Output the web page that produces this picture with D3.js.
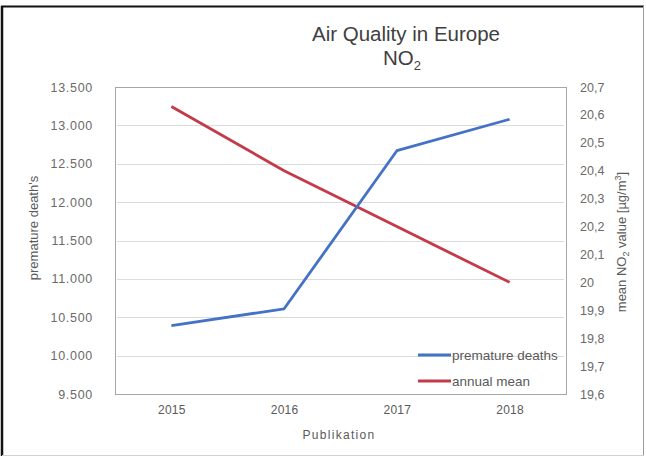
<!DOCTYPE html>
<html>
<head>
<meta charset="utf-8">
<script src="https://cdn.jsdelivr.net/npm/d3@7"></script>
<style>
  html, body { margin: 0; padding: 0; background: #fff; }
  svg { display: block; }
  text { font-family: "Liberation Sans", Arial, sans-serif; }
</style>
</head>
<body>
<svg id="chart" width="646" height="459"></svg>
<script>
// Publication years and the two series
const years = ["2015", "2016", "2017", "2018"];
const prematureDeaths = [10390, 10610, 12670, 13080];
const annualMean = [20.63, 20.4, 20.2, 20.0];

// Axis tick values
const leftTicks = [9500, 10000, 10500, 11000, 11500, 12000, 12500, 13000, 13500];
const rightTicks = [19.6, 19.7, 19.8, 19.9, 20.0, 20.1, 20.2, 20.3, 20.4, 20.5, 20.6, 20.7];

const seriesNames = ["premature deaths", "annual mean"];
const colors = ["#4472c4", "#c43a48"];

const svg = d3.select("#chart");
const plot = { left: 115, right: 566, top: 87, bottom: 394 };

// Outer frame
svg.append("line").attr("x1", 2).attr("x2", 2).attr("y1", 6).attr("y2", 456)
  .attr("stroke", "#111").attr("stroke-width", 2.5);
svg.append("line").attr("x1", 1).attr("x2", 644).attr("y1", 6.5).attr("y2", 6.5)
  .attr("stroke", "#111").attr("stroke-width", 2);
svg.append("line").attr("x1", 643.5).attr("x2", 643.5).attr("y1", 6).attr("y2", 456)
  .attr("stroke", "#9a9a9a").attr("stroke-width", 1);
svg.append("line").attr("x1", 2).attr("x2", 644).attr("y1", 455.5).attr("y2", 455.5)
  .attr("stroke", "#d0d0d0").attr("stroke-width", 1);

// Scales
const x = d3.scalePoint().domain(years).range([plot.left, plot.right]).padding(0.5);
const yL = d3.scaleLinear().domain([9500, 13500]).range([plot.bottom, plot.top]);
const yR = d3.scaleLinear().domain([19.6, 20.7]).range([plot.bottom, plot.top]);

// Gridlines at left axis ticks
svg.append("g").selectAll("line").data(leftTicks.slice(1, -1)).join("line")
  .attr("x1", plot.left + 2).attr("x2", plot.right - 2)
  .attr("y1", d => Math.round(yL(d)) + 0.5).attr("y2", d => Math.round(yL(d)) + 0.5)
  .attr("stroke", "#dcdcdc").attr("stroke-width", 1);

// Plot area border
svg.append("rect")
  .attr("x", plot.left + 0.5).attr("y", plot.top + 0.5)
  .attr("width", plot.right - plot.left).attr("height", plot.bottom - plot.top)
  .attr("fill", "none").attr("stroke", "#a6a6a6").attr("stroke-width", 1);

// Left axis
const fmtL = d => d3.format(",")(d).replace(/,/g, ".");
const leftAxis = d3.axisLeft(yL).tickValues(leftTicks).tickSize(0).tickPadding(22).tickFormat(fmtL);
const gL = svg.append("g").attr("transform", `translate(${plot.left},0)`).call(leftAxis);
gL.select(".domain").remove();
gL.selectAll("text").attr("font-size", 12.5).attr("letter-spacing", 0.7).attr("fill", "#6a6a6a")
  .attr("font-family", "Liberation Sans, Arial, sans-serif");

// Right axis
const fmtR = d => (Math.round(d * 10) / 10).toString().replace(".", ",");
const rightAxis = d3.axisRight(yR).tickValues(rightTicks).tickSize(0).tickPadding(14).tickFormat(fmtR);
const gR = svg.append("g").attr("transform", `translate(${plot.right},0)`).call(rightAxis);
gR.select(".domain").remove();
gR.selectAll("text").attr("font-size", 12.5).attr("fill", "#6a6a6a")
  .attr("font-family", "Liberation Sans, Arial, sans-serif");

// Bottom axis
const bottomAxis = d3.axisBottom(x).tickSize(0).tickPadding(11);
const gB = svg.append("g").attr("transform", `translate(0,${plot.bottom})`).call(bottomAxis);
gB.select(".domain").remove();
gB.selectAll("text").attr("font-size", 12).attr("letter-spacing", 0.3).attr("fill", "#5a5a5a")
  .attr("font-family", "Liberation Sans, Arial, sans-serif");

// Series lines
const lineL = d3.line().x((d, i) => x(years[i])).y(d => yL(d));
const lineR = d3.line().x((d, i) => x(years[i])).y(d => yR(d));
svg.append("path").datum(annualMean).attr("d", lineR)
  .attr("fill", "none").attr("stroke", colors[1]).attr("stroke-width", 2.8)
  .attr("stroke-linejoin", "round");
svg.append("path").datum(prematureDeaths).attr("d", lineL)
  .attr("fill", "none").attr("stroke", colors[0]).attr("stroke-width", 2.8)
  .attr("stroke-linejoin", "round");

// Title
const title = svg.append("text").attr("x", 406).attr("y", 41)
  .attr("text-anchor", "middle").attr("font-size", 20.5).attr("fill", "#404040");
title.append("tspan").text("Air Quality in Europe");
const sub = svg.append("text").attr("x", 402).attr("y", 65)
  .attr("text-anchor", "middle").attr("font-size", 20.5).attr("fill", "#404040");
sub.append("tspan").text("NO");
sub.append("tspan").attr("font-size", 13).attr("dy", 5).text("2");

// Axis titles
svg.append("text")
  .attr("transform", "translate(38,228) rotate(-90)")
  .attr("text-anchor", "middle").attr("font-size", 13).attr("fill", "#5a5a5a")
  .text("premature death's");

const rt = svg.append("text")
  .attr("transform", "translate(626,242) rotate(-90)")
  .attr("text-anchor", "middle").attr("font-size", 13).attr("fill", "#5a5a5a");
rt.append("tspan").text("mean NO");
rt.append("tspan").attr("font-size", 9).attr("dy", 3).text("2");
rt.append("tspan").attr("dy", -3).text(" value [µg/m");
rt.append("tspan").attr("font-size", 9).attr("dy", -5).text("3");
rt.append("tspan").attr("dy", 5).text("]");

svg.append("text").attr("x", 339).attr("y", 439)
  .attr("text-anchor", "middle").attr("font-size", 12)
  .attr("font-family", "DejaVu Sans, Verdana, sans-serif")
  .attr("letter-spacing", 1.3).attr("fill", "#5a5a5a")
  .text("Publikation");

// Legend
const legend = svg.append("g");
const legY = [355, 381];
seriesNames.forEach((name, i) => {
  legend.append("line").attr("x1", 418).attr("x2", 451)
    .attr("y1", legY[i]).attr("y2", legY[i])
    .attr("stroke", colors[i]).attr("stroke-width", 2.8);
  legend.append("text").attr("x", 452).attr("y", legY[i] + 4.5)
    .attr("font-size", 13.5).attr("fill", "#5a5a5a").text(name);
});
</script>
</body>
</html>
